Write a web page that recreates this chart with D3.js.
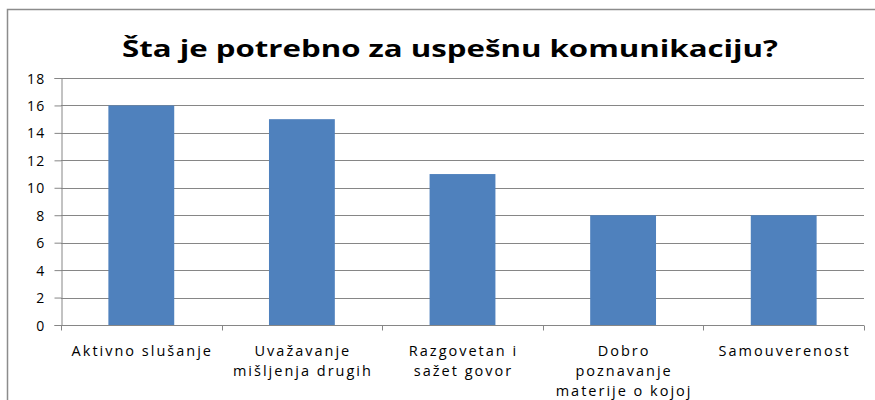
<!DOCTYPE html>
<html><head><meta charset="utf-8">
<script src="https://cdn.jsdelivr.net/npm/d3@7"></script>
<style>body{margin:0;background:#fff}svg{display:block}</style>
</head><body>
<script>
const title = "Šta je potrebno za uspešnu komunikaciju?";
const categories = ["Aktivno slušanje", "Uvažavanje mišljenja drugih", "Razgovetan i sažet govor", "Dobro poznavanje materije o kojoj", "Samouverenost"];
const categoryLines = [["Aktivno slušanje"], ["Uvažavanje", "mišljenja drugih"], ["Razgovetan i", "sažet govor"], ["Dobro", "poznavanje", "materije o kojoj"], ["Samouverenost"]];
const values = [16, 15, 11, 8, 8];
const yTicks = [0, 2, 4, 6, 8, 10, 12, 14, 16, 18];

(function () {
const W = 875, H = 400;
const svg = d3.select("body").append("svg").attr("width", W).attr("height", H);
svg.append("rect").attr("x", 7.5).attr("y", 9.5).attr("width", 900).attr("height", 420)
  .attr("fill", "#fff").attr("stroke", "#8c8c8c").attr("stroke-width", 1.5);

const pl = 61, pr = 864, pt = 78, pb = 325;
const x = d3.scaleBand().domain(categories).range([pl, pr]).paddingInner(0.59).paddingOuter(0.295);
const y = d3.scaleLinear().domain([0, 18]).range([pb, pt]);
const font = "'Open Sans', sans-serif";

svg.append("text").attr("x", 450).attr("y", 57).attr("text-anchor", "middle")
  .attr("font-family", font).attr("font-weight", "bold").attr("font-size", 24)
  .attr("fill", "#000").attr("textLength", 656).attr("lengthAdjust", "spacingAndGlyphs").text(title);

svg.append("g").selectAll("line").data(yTicks.filter(d => d > 0)).join("line")
  .attr("x1", pl).attr("x2", pr).attr("y1", d => Math.round(y(d)) + 0.5).attr("y2", d => Math.round(y(d)) + 0.5)
  .attr("stroke", "#868686").attr("stroke-width", 1);

svg.append("g").selectAll("rect").data(values).join("rect")
  .attr("x", (d, i) => x(categories[i])).attr("width", x.bandwidth())
  .attr("y", d => y(d)).attr("height", d => y(0) - y(d)).attr("fill", "#4F81BD");

const ya = svg.append("g").attr("transform", `translate(${pl + 0.5},0)`)
  .call(d3.axisLeft(y).tickValues(yTicks).tickSize(7).tickPadding(9));
ya.selectAll("line").attr("stroke", "#868686");
ya.select(".domain").attr("stroke", "#868686");
ya.selectAll("text").attr("font-family", font).attr("font-size", 14).attr("letter-spacing", 1.2)
  .attr("dy", "0.36em").attr("fill", "#000");

const xa = svg.append("g").attr("transform", `translate(0,${Math.round(pb) + 0.5})`);
xa.append("line").attr("x1", pl).attr("x2", pr).attr("stroke", "#868686");
const step = x.step();
const bounds = d3.range(categories.length + 1).map(i => pl + i * step);
xa.selectAll("line.t").data(bounds).join("line").attr("class", "t")
  .attr("x1", d => Math.round(d) + 0.5).attr("x2", d => Math.round(d) + 0.5).attr("y1", 0).attr("y2", 5).attr("stroke", "#868686");

const lab = svg.append("g").selectAll("text").data(categories).join("text")
  .attr("text-anchor", "middle").attr("font-family", font).attr("font-size", 14.5).attr("fill", "#000")
  .attr("letter-spacing", 2);
lab.each(function (c, i) {
  const t = d3.select(this);
  categoryLines[i].forEach((ln, j) => {
    t.append("tspan").attr("x", x(c) + x.bandwidth() / 2 + 1).attr("y", 356 + j * 20).text(ln);
  });
});
})();
</script>
</body></html>
